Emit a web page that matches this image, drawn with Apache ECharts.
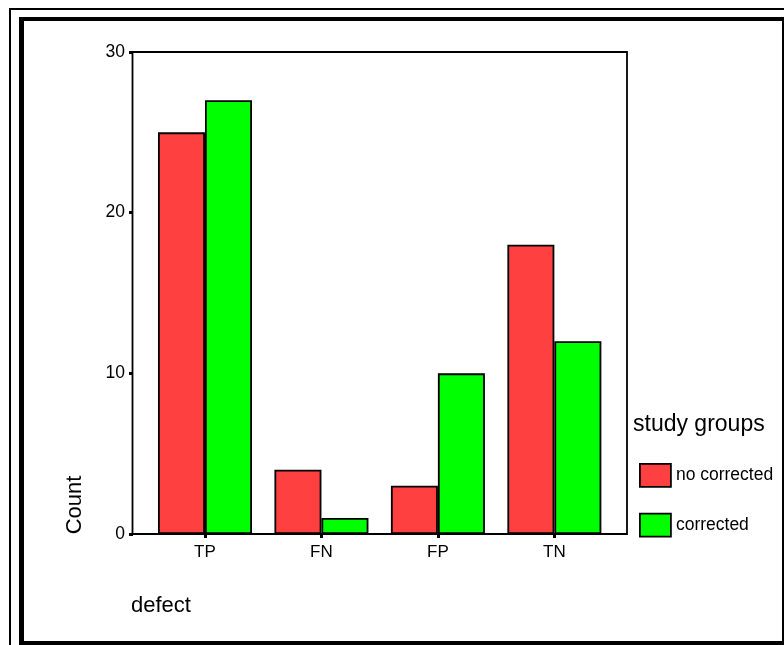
<!DOCTYPE html>
<html>
<head>
<meta charset="utf-8">
<script src="https://cdn.jsdelivr.net/npm/echarts@6/dist/echarts.min.js"></script>
<style>
html,body{margin:0;padding:0;background:#fff;}
#chart{width:784px;height:645px;}
</style>
</head>
<body>
<div id="chart"></div>
<script>
var categories = ['TP', 'FN', 'FP', 'TN'];
var seriesNames = ['no corrected', 'corrected'];
var noCorrected = [25, 4, 3, 18];
var corrected = [27, 1, 10, 12];
var yTicks = [0, 10, 20, 30];

var FONT = "'Liberation Sans', Arial, sans-serif";
var chart = echarts.init(document.getElementById('chart'), null, {renderer: 'canvas'});

var option = {
  backgroundColor: '#fff',
  animation: false,
  title: {
    text: 'study groups',
    left: 633, top: 413, padding: 0,
    textStyle: {fontFamily: FONT, fontSize: 23, fontWeight: 'normal', color: '#000'}
  },
  legend: {
    orient: 'vertical',
    left: 639, top: 463, padding: 0,
    itemWidth: 31, itemHeight: 23, itemGap: 25,
    icon: 'rect',
    itemStyle: {borderColor: '#000', borderWidth: 1.8},
    textStyle: {fontFamily: FONT, fontSize: 17.5, color: '#000'},
    data: seriesNames
  },
  grid: {left: 146.75, right: 171.4, top: 52, bottom: 111, containLabel: false},
  xAxis: {
    type: 'category',
    data: categories,
    axisLine: {show: false},
    axisTick: {show: true, alignWithLabel: true, length: 4, lineStyle: {color: '#000', width: 3}},
    axisLabel: {fontFamily: FONT, fontSize: 17, color: '#000', margin: 10}
  },
  yAxis: {
    type: 'value',
    min: yTicks[0], max: yTicks[yTicks.length - 1], interval: 10,
    offset: 13.75,
    axisLine: {show: false},
    axisTick: {show: true, length: 4, lineStyle: {color: '#000', width: 3}},
    axisLabel: {fontFamily: FONT, fontSize: 17.5, color: '#000', margin: 8},
    splitLine: {show: false}
  },
  series: [
    {
      name: seriesNames[0], type: 'bar', data: noCorrected,
      barWidth: 47, barGap: '0%',
      itemStyle: {color: '#ff4040', borderColor: '#000', borderWidth: 1.8}
    },
    {
      name: seriesNames[1], type: 'bar', data: corrected,
      barWidth: 47, barGap: '0%',
      itemStyle: {color: '#00ff00', borderColor: '#000', borderWidth: 1.8}
    }
  ],
  graphic: [
    // plot frame
    {type: 'rect', z: 100, shape: {x: 132.5, y: 52, width: 494.5, height: 482},
     style: {fill: null, stroke: '#000', lineWidth: 1.8}},
    // outer thin frame
    {type: 'rect', shape: {x: 9, y: 8, width: 775, height: 2}, style: {fill: '#000'}},
    {type: 'rect', shape: {x: 9, y: 8, width: 2, height: 637}, style: {fill: '#000'}},
    // inner thick frame
    {type: 'rect', shape: {x: 19, y: 17, width: 765, height: 4}, style: {fill: '#000'}},
    {type: 'rect', shape: {x: 19, y: 17, width: 5, height: 628}, style: {fill: '#000'}},
    {type: 'rect', shape: {x: 782, y: 17, width: 2, height: 628}, style: {fill: '#000'}},
    {type: 'rect', shape: {x: 19, y: 641, width: 765, height: 4}, style: {fill: '#000'}},
    // axis titles
    {type: 'text', x: 131, y: 606,
     style: {text: 'defect', fontFamily: FONT, fontSize: 22, fill: '#000', textAlign: 'left', textVerticalAlign: 'middle'}},
    {type: 'text', x: 75, y: 505, rotation: Math.PI / 2,
     style: {text: 'Count', fontFamily: FONT, fontSize: 22, fill: '#000', textAlign: 'center', textVerticalAlign: 'middle'}}
  ]
};
chart.setOption(option);
</script>
</body>
</html>
